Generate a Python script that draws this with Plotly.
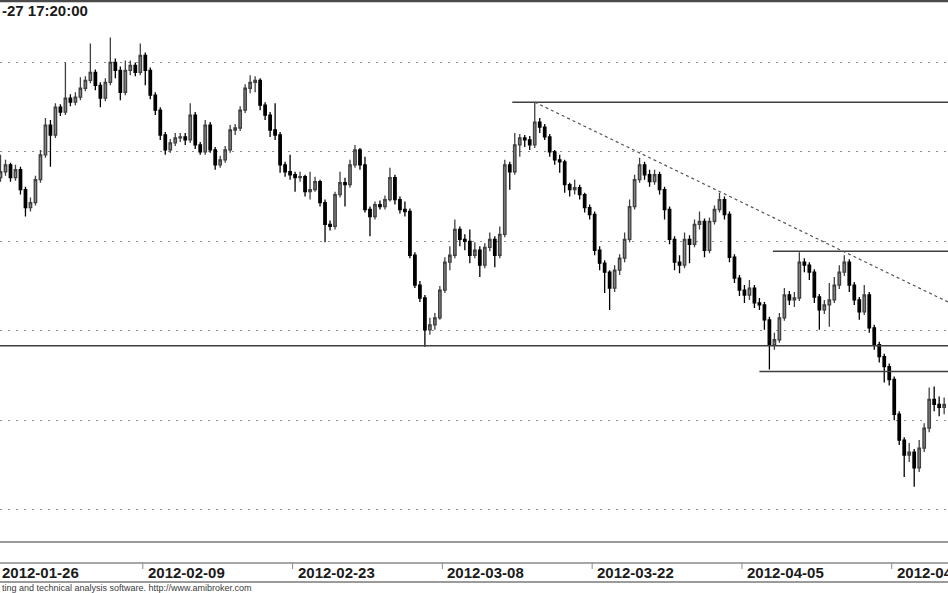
import numpy as np
import plotly.graph_objects as go

# ---- data (price units, arbitrary instrument scale; 3 bars per weekday) ----
open_ = [424,430,437,424,432,412,394,399,422,447,
         477,467,495,490,504,500,505,514,522,530,
         517,504,520,540,532,510,532,537,530,547,
         532,507,492,467,452,459,464,465,462,487,
         457,450,477,452,437,442,452,472,474,492,
         514,520,522,497,487,472,467,437,430,427,
         424,425,410,412,420,399,377,375,407,419,
         417,437,452,437,392,385,397,395,402,424,
         402,392,390,346,316,303,271,276,283,311,
         339,346,372,362,360,346,351,336,354,362,
         346,367,437,430,457,464,462,457,480,475,
         465,450,442,440,417,412,414,407,394,387,
         351,338,329,313,331,343,362,395,422,437,
         427,420,427,412,392,362,339,336,362,357,
         377,380,351,380,392,402,387,344,323,311,
         306,313,298,296,281,256,261,283,306,301,
         303,339,336,329,304,291,296,301,316,329,
         339,316,301,289,306,273,256,244,234,221,
         186,160,145,148,132,152,172,201,196,193]

close = [430,437,424,432,412,394,399,422,447,477,
         467,495,490,504,500,505,514,522,530,517,
         504,520,540,532,510,532,537,530,547,532,
         507,492,467,452,459,464,465,462,487,457,
         450,477,452,437,442,452,472,474,492,514,
         520,522,497,487,472,467,437,430,427,424,
         425,410,412,420,399,377,375,407,419,417,
         437,452,437,392,385,397,395,402,424,402,
         392,390,346,316,303,271,276,283,311,339,
         346,372,362,360,346,351,336,354,362,346,
         367,437,430,457,464,462,457,480,475,465,
         450,442,440,417,412,414,407,394,387,351,
         338,329,313,331,343,362,395,422,437,427,
         420,427,412,392,362,339,336,362,357,377,
         380,351,380,392,402,387,344,323,311,306,
         313,298,296,281,256,261,283,306,301,303,
         339,336,329,304,291,296,301,316,329,339,
         316,301,289,306,273,256,244,234,221,186,
         160,145,148,132,152,172,201,196,193,196]

high = [447,442,439,437,435,415,404,426,452,484,
        482,499,498,540,508,510,525,526,559,533,
        520,524,565,544,536,542,542,540,559,550,
        535,510,495,470,463,469,469,469,499,490,
        460,482,480,455,446,456,477,478,496,518,
        527,526,524,500,490,499,470,440,447,430,
        430,427,430,425,422,402,381,410,430,424,
        442,457,454,445,395,400,401,406,434,427,
        405,400,393,349,320,306,283,288,315,344,
        355,382,375,367,372,359,355,358,369,365,
        375,442,440,469,468,467,466,500,484,478,
        468,452,447,442,419,422,417,409,397,390,
        355,341,331,336,347,369,402,427,444,440,
        432,432,430,415,395,365,346,369,366,382,
        390,383,384,396,409,405,390,347,326,316,
        321,316,303,299,284,268,288,313,310,309,
        349,343,339,332,307,301,318,324,336,346,
        342,319,304,316,309,276,259,247,237,224,
        189,163,157,151,160,177,213,214,204,203]

low = [420,426,420,421,407,385,390,396,419,444,
       435,464,486,487,496,497,502,511,519,512,
       495,501,517,524,502,507,527,526,527,517,
       503,487,462,447,449,456,460,457,459,453,
       447,447,449,432,434,439,449,467,471,489,
       509,510,492,482,465,462,429,425,422,410,
       420,405,402,410,395,359,371,372,404,395,
       414,434,432,389,365,382,392,392,400,397,
       388,385,343,313,299,254,266,271,281,308,
       331,343,355,351,338,343,324,333,350,334,
       343,364,412,427,445,455,452,454,469,462,
       445,437,429,409,405,407,402,389,382,346,
       331,308,291,309,326,339,359,392,419,422,
       415,417,407,382,357,331,328,333,338,354,
       372,344,348,377,389,382,339,318,305,298,
       301,293,291,271,231,251,258,280,296,294,
       300,329,321,298,271,287,274,298,312,325,
       309,296,281,286,268,251,238,218,215,180,
       155,123,138,113,128,148,168,189,184,186]

bars_per_day = 3
first_day = "2012-01-26"
first_bar = 1
tick_dates = ["2012-01-26", "2012-02-09", "2012-02-23", "2012-03-08",
              "2012-03-22", "2012-04-05", "2012-04-19"]

# drawn support / resistance levels (price) and the bar they start from
levels = [500, 255, 350, 229]
level_start_bar = [103.5, -10, 155.7, 153]
# dashed down-trend line: bar numbers and prices
trend_bars = [108, 192]
trend_prices = [500, 296]

title_text = "-27 17:20:00"
footer_text = "ting and technical analysis software. http://www.amibroker.com"

# ---- figure ----
bars = list(range(first_bar, first_bar + len(close)))
X0, X1 = 0.9, 190.77
Y0, Y1 = 58.5, 602.8
W, H, PLOT_H = 948, 593, 541


def px_to_paper_y(py):
    return 1 - py / PLOT_H


def bar_to_paper_x(b):
    return (b - X0) / (X1 - X0)


fig = go.Figure()
fig.add_trace(go.Candlestick(
    x=bars, open=open_, high=high, low=low, close=close,
    increasing=dict(line=dict(color="#404040", width=1.3), fillcolor="#858585"),
    decreasing=dict(line=dict(color="#000000", width=1.3), fillcolor="#000000"),
    whiskerwidth=0, showlegend=False, hoverinfo="skip"))

for lv, sb in zip(levels, level_start_bar):
    fig.add_trace(go.Scatter(x=[sb, X1 + 5], y=[lv, lv], mode="lines",
                             line=dict(color="#3f3f3f", width=1.4),
                             showlegend=False, hoverinfo="skip"))

fig.add_trace(go.Scatter(x=trend_bars, y=trend_prices, mode="lines",
                         line=dict(color="#555555", width=1.2, dash="3px,3px"),
                         showlegend=False, hoverinfo="skip"))

shapes = []
# frame / strip lines
for py, col, w in [(1, "#4a4a4a", 2.5), (542, "#7a7a7a", 1.6),
                   (563, "#8a8a8a", 1.3), (582, "#7a7a7a", 1.6)]:
    shapes.append(dict(type="line", xref="paper", yref="paper", x0=0, x1=1,
                       y0=px_to_paper_y(py), y1=px_to_paper_y(py),
                       line=dict(color=col, width=w)))

annotations = []
for d in tick_dates:
    day = int(np.busday_count(first_day, d))
    tb = bars_per_day * day - 0.5
    xp = bar_to_paper_x(tb)
    shapes.append(dict(type="line", xref="paper", yref="paper", x0=xp, x1=xp,
                       y0=px_to_paper_y(563), y1=px_to_paper_y(569),
                       line=dict(color="#8a8a8a", width=1)))
    lab_x = max(xp + 3 / W, 0)
    annotations.append(dict(text=d, xref="paper", yref="paper", x=lab_x,
                            y=px_to_paper_y(572.5), xanchor="left", yanchor="middle",
                            showarrow=False,
                            font=dict(family="Liberation Sans, Arial", size=15,
                                      color="#1a1a1a", weight="bold")))

annotations.append(dict(text=title_text, xref="paper", yref="paper", x=0,
                        y=px_to_paper_y(10.5), xanchor="left", yanchor="middle",
                        showarrow=False,
                        font=dict(family="Liberation Sans, Arial", size=15,
                                  color="#1a1a1a", weight="bold")))
annotations.append(dict(text=footer_text, xref="paper", yref="paper", x=0,
                        y=px_to_paper_y(587.5), xanchor="left", yanchor="middle",
                        showarrow=False,
                        font=dict(family="Liberation Sans, Arial", size=9,
                                  color="#3a3a3a")))

fig.update_layout(
    width=W, height=H,
    margin=dict(l=0, r=0, t=0, b=H - PLOT_H),
    paper_bgcolor="white", plot_bgcolor="white",
    shapes=shapes, annotations=annotations,
    xaxis=dict(range=[X0, X1], showgrid=False, showticklabels=False,
               zeroline=False, showline=False, ticks="",
               rangeslider=dict(visible=False)),
    yaxis=dict(range=[Y0, Y1], tick0=0, dtick=90, showgrid=True,
               gridcolor="#8c8c8c", griddash="2px,6px", gridwidth=1,
               showticklabels=False, zeroline=False, showline=False, ticks=""),
)

fig.write_html("out.html",
               config={"displayModeBar": False, "staticPlot": True},
               post_script="document.body.style.margin='0px';"
                           "document.body.style.overflow='hidden';")
